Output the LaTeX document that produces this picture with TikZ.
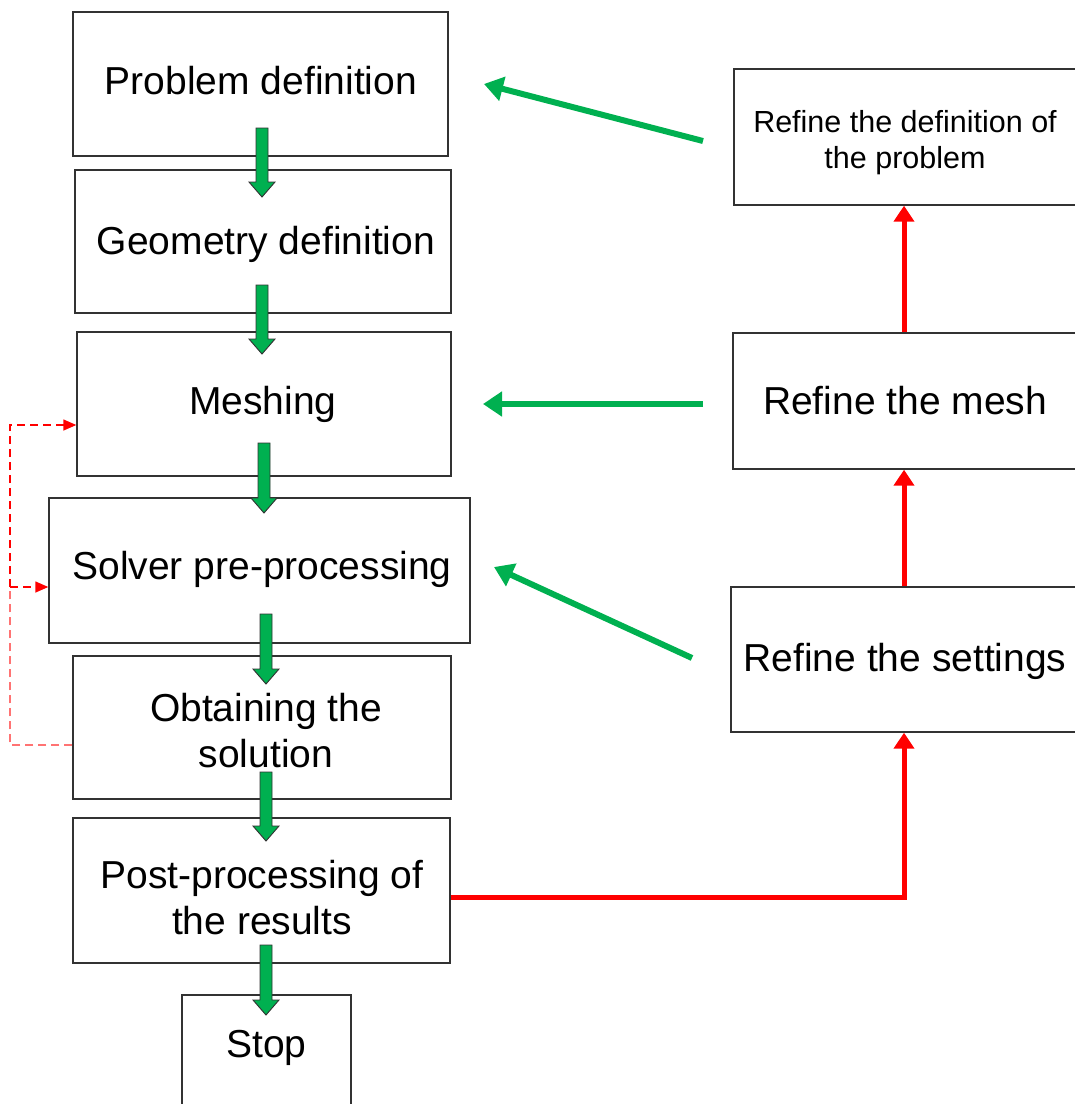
\documentclass[tikz,border=0pt]{standalone}
\usepackage{fontspec}
\setmainfont{Liberation Sans}
\usetikzlibrary{arrows.meta,calc}
\definecolor{bgreen}{RGB}{0,176,80}
\definecolor{edge}{RGB}{50,50,50}
\tikzset{
  box/.style={draw=edge,line width=1.4pt,fill=white,inner sep=0pt},
  txt/.style={align=center,inner sep=0pt,font=\fontsize{39}{46}\selectfont},
  smalltxt/.style={txt,font=\fontsize{30.5}{36}\selectfont},
  barrow/.style={draw=edge,line width=0.9pt,fill=bgreen},
  garrow/.style={draw=bgreen,line width=6pt,-{Triangle[length=19pt,width=24pt]}},
  rarrow/.style={draw=red,line width=5pt,-{Triangle[length=16pt,width=20pt]}},
  dline/.style={draw=red,line width=1.4pt,dash pattern=on 8pt off 5pt},
  darrow/.style={dline,-{Triangle[length=13pt,width=11pt]}},
}
\newcommand\blkarrow[2]{%
  \path[barrow] ($(#1)+(-6,0)$) -- ($(#1)+(6,0)$) -- ($(#2)+(6,-15)$) -- ($(#2)+(13,-15)$)
   -- (#2) -- ($(#2)+(-13,-15)$) -- ($(#2)+(-6,-15)$) -- cycle;}
\begin{document}
\begin{tikzpicture}[x=1pt,y=-1pt]
\useasboundingbox (0,0) rectangle (1075,1104);
% left column
\node[box,minimum width=375pt,minimum height=144pt] (pd) at (260.5,84) {};
\node[box,minimum width=376pt,minimum height=143pt] (gd) at (263,241.5) {};
\node[box,minimum width=374pt,minimum height=144pt] (me) at (264,404) {};
\node[box,minimum width=421pt,minimum height=145pt] (sp) at (259.5,570.5) {};
\node[box,minimum width=378pt,minimum height=143pt] (os) at (262,727.5) {};
\node[box,minimum width=377pt,minimum height=145pt] (pp) at (261.5,890.5) {};
\node[box,minimum width=169pt,minimum height=125pt] (st) at (266.5,1057.5) {};
\node[txt] (pdt) at (261,81) {Problem definition};
\node[txt] (gdt) at (266,244) {Geometry definition};
\node[txt] (met) at (263,404) {Meshing};
\node[txt] (spt) at (262,569) {Solver pre-processing};
\node[txt] (ost) at (266,731) {Obtaining the\\solution};
\node[txt] (ppt) at (262,898) {Post-processing of\\the results};
\node[txt] (stt) at (266.5,1048) {Stop};
% right column
\node[box,minimum width=346pt,minimum height=136pt] (rd) at (907,137) {};
\node[box,minimum width=347pt,minimum height=136pt] (rm) at (906.5,401) {};
\node[box,minimum width=349pt,minimum height=145pt] (rs) at (905.5,659.5) {};
\node[smalltxt] (rdt) at (905,143) {Refine the definition of\\the problem};
\node[txt] (rmt) at (905,401) {Refine the mesh};
\node[txt] (rst) at (905,661) {Refine the settings};
% block arrows
\coordinate (a1s) at (262,128); \coordinate (a1e) at (262,197);
\coordinate (a2s) at (262,285); \coordinate (a2e) at (262,354);
\coordinate (a3s) at (264,443); \coordinate (a3e) at (264,513);
\coordinate (a4s) at (266,614); \coordinate (a4e) at (266,684);
\coordinate (a5s) at (266,772); \coordinate (a5e) at (266,841);
\coordinate (a6s) at (266,945); \coordinate (a6e) at (266,1015);
\blkarrow{a1s}{a1e}
\blkarrow{a2s}{a2e}
\blkarrow{a3s}{a3e}
\blkarrow{a4s}{a4e}
\blkarrow{a5s}{a5e}
\blkarrow{a6s}{a6e}
% green feedback arrows
\coordinate (g1s) at (703,141); \coordinate (g1e) at (484,84);
\coordinate (g2s) at (703,404); \coordinate (g2e) at (483,404);
\coordinate (g3s) at (692,658); \coordinate (g3e) at (494,567);
\draw[garrow] (g1s) -- (g1e);
\draw[garrow] (g2s) -- (g2e);
\draw[garrow] (g3s) -- (g3e);
% red arrows
\draw[rarrow] ($(pp.east)+(0,6.5)$) -| ($(rs.south)+(-1.5,0)$);
\draw[rarrow] ($(rs.north)+(-1.5,0)$) -- ($(rm.south)+(-2.5,0)$);
\draw[rarrow] ($(rm.north)+(-2.5,0)$) -- ($(rd.south)+(-3,0)$);
% dashed loop
\coordinate (dl) at (10,587);
\draw[dline,draw=red!55] ($(os.west)+(0,17.5)$) -| (dl);
\draw[darrow] (dl) -- (sp.west |- dl);
\draw[darrow] (dl) |- ($(me.west)+(0,21)$);
\end{tikzpicture}
\end{document}
